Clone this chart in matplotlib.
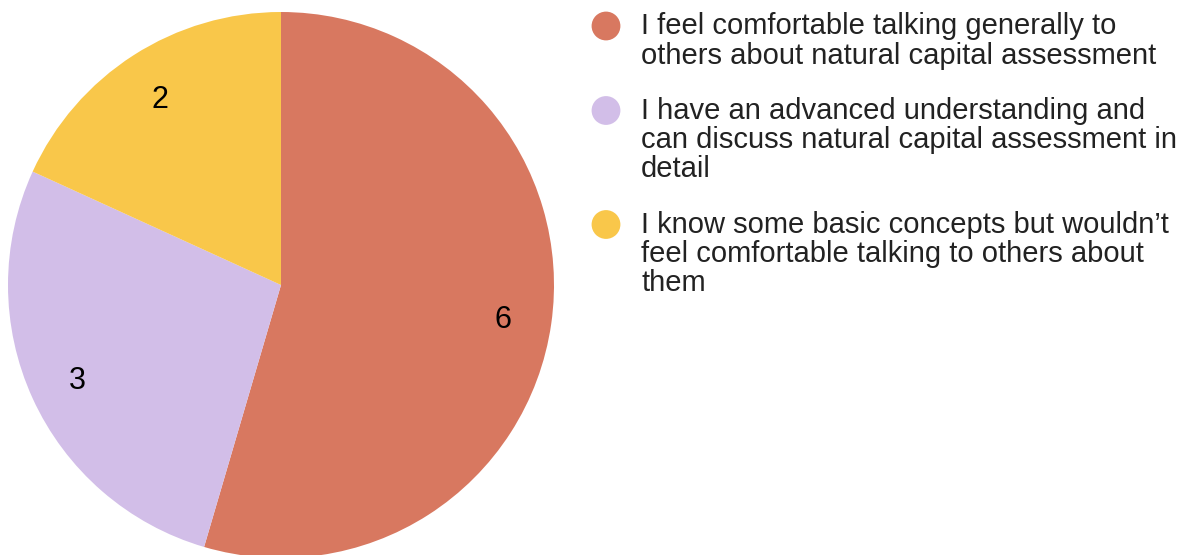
import matplotlib

matplotlib.use("Agg")
import matplotlib.pyplot as plt

plt.rcParams["font.family"] = ["Liberation Sans", "DejaVu Sans"]

# survey responses: confidence with natural capital assessment
labels = [
    "I feel comfortable talking generally to\nothers about natural capital assessment",
    "I have an advanced understanding and\ncan discuss natural capital assessment in\ndetail",
    "I know some basic concepts but wouldn\u2019t\nfeel comfortable talking to others about\nthem",
]
counts = [6, 3, 2]
colors = ["#D87860", "#D2BEE8", "#F9C74A"]

W, H = 1197, 555

fig = plt.figure(figsize=(W / 100, H / 100), dpi=100)

# pie: centre (281, 285) px from top-left, radius 273 px
cx, cy, r = 281, 285, 273
ax = fig.add_axes([(cx - r) / W, (H - cy - r) / H, 2 * r / W, 2 * r / H])
wedges, texts, autotexts = ax.pie(
    counts,
    colors=colors,
    startangle=90,
    counterclock=False,
    radius=1,
    autopct=lambda p: f"{round(p * sum(counts) / 100):d}",
    pctdistance=0.82,
    wedgeprops={"linewidth": 0},
    textprops={"fontsize": 22, "color": "black"},
)
for t in autotexts:
    t.set_va("center_baseline")
ax.set_xlim(-1, 1)
ax.set_ylim(-1, 1)
ax.set_aspect("equal")
ax.axis("off")

# legend in pixel coordinates, one text per line so baselines stay put
lg = fig.add_axes([0, 0, 1, 1], zorder=3)
lg.set_xlim(0, W)
lg.set_ylim(H, 0)
lg.axis("off")
lg.patch.set_alpha(0)

first_baselines = [34.5, 119, 233]
line_step = 29.2
for lab, col, yb in zip(labels, colors, first_baselines):
    lg.scatter([606], [yb - 8.5], s=430, color=col, edgecolors="none")
    for i, line in enumerate(lab.split("\n")):
        lg.text(641, yb + i * line_step, line, fontsize=21, color="#222222",
                va="baseline", ha="left")

fig.savefig("out.png", dpi=100)
plt.close(fig)
